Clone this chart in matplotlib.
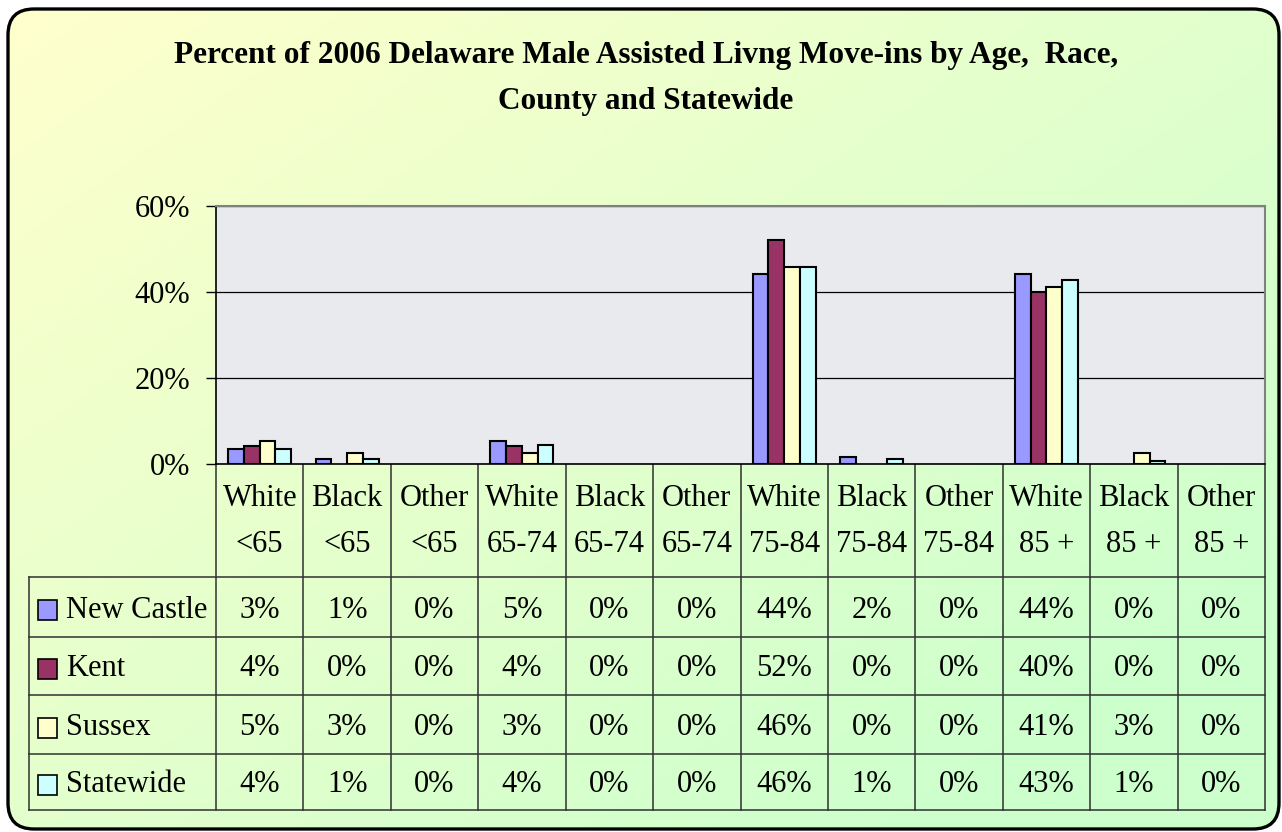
import matplotlib.pyplot as plt
import numpy as np
from matplotlib.patches import FancyBboxPatch, Rectangle
from matplotlib.transforms import blended_transform_factory

# categories (race / age group)
races = ['White', 'Black', 'Other'] * 4
ages = ['<65'] * 3 + ['65-74'] * 3 + ['75-84'] * 3 + ['85 +'] * 3

# percent of move-ins
new_castle = [3.4, 1.1, 0, 5.3, 0, 0, 44.3, 1.6, 0, 44.3, 0, 0]
kent = [4.2, 0, 0, 4.2, 0, 0, 52.1, 0, 0, 40.1, 0, 0]
sussex = [5.3, 2.6, 0, 2.6, 0, 0, 45.7, 0, 0, 41.2, 2.6, 0]
statewide = [3.6, 1.1, 0, 4.4, 0, 0, 45.7, 1.1, 0, 42.7, 0.6, 0]

series_names = ['New Castle', 'Kent', 'Sussex', 'Statewide']
series_colors = ['#9999FF', '#993366', '#FFFFCC', '#CCFFFF']
yticks = [0, 20, 40, 60]

title1 = 'Percent of 2006 Delaware Male Assisted Livng Move-ins by Age,  Race,'
title2 = 'County and Statewide'

plt.rcParams['font.family'] = ['Liberation Serif', 'DejaVu Serif']
FS = 22

W, H = 1282, 832
fig = plt.figure(figsize=(W / 100, H / 100), dpi=100)
fig.patch.set_facecolor('white')

# background layer in pixel coordinates
bg = fig.add_axes([0, 0, 1, 1])
bg.set_xlim(0, W)
bg.set_ylim(H, 0)
bg.axis('off')

box = FancyBboxPatch((8, 9), 1271, 820, boxstyle='round,pad=0,rounding_size=26',
                     facecolor='none', edgecolor='black', linewidth=2.4, zorder=3)
bg.add_patch(box)

# diagonal yellow -> green gradient
gx, gy = np.meshgrid(np.linspace(0, 1, 200), np.linspace(0, 1, 130))
t = np.clip((gx * 0.6 + gy * 0.55), 0, 1)[..., None]
c0 = np.array([1.0, 1.0, 0.80])
c1 = np.array([0.80, 1.0, 0.80])
grad = c0 * (1 - t) + c1 * t
im = bg.imshow(grad, extent=(8, 1279, 829, 9), aspect='auto', zorder=1, interpolation='bilinear')
im.set_clip_path(box)

# bar chart
left, right, top, bottom = 216, 1265, 206, 464
ax = fig.add_axes([left / W, 1 - bottom / H, (right - left) / W, (bottom - top) / H])
ax.set_facecolor('#E8EAED')
x = np.arange(len(races))
bw = 0.18
all_series = [new_castle, kent, sussex, statewide]
for i, (vals, col) in enumerate(zip(all_series, series_colors)):
    bars = ax.bar(x + (i - 1.5) * bw, vals, bw, color=col, edgecolor='black',
                  linewidth=1.5, zorder=3)
    for b, v in zip(bars, vals):
        if v == 0:
            b.set_visible(False)

ax.set_xlim(-0.5, len(races) - 0.5)
ax.set_ylim(0, 60)
ax.set_yticks(yticks)
ax.set_yticklabels(['%d%%' % v for v in yticks], fontsize=FS)
ax.set_xticks([])
ax.tick_params(axis='y', direction='out', length=7.2, width=1, pad=11.5)
ax.yaxis.grid(True, color='black', linewidth=0.9, zorder=1)
ax.set_axisbelow(True)
for s in ['top', 'right']:
    ax.spines[s].set_color('#808080')
    ax.spines[s].set_linewidth(1.5)
ax.spines['left'].set_linewidth(1.2)
ax.spines['bottom'].set_linewidth(1.2)

# data table below the plot
tr = blended_transform_factory(ax.transData, bg.transData)
row_lines = [577, 637, 695, 754, 810]
line_kw = dict(color='#303030', linewidth=1.1, zorder=4)
for k in range(len(races) + 1):
    bg.plot([k - 0.5, k - 0.5], [bottom, row_lines[-1]], transform=tr, **line_kw)
for yl in row_lines:
    bg.plot([29, right], [yl, yl], **line_kw)
bg.plot([29, 29], [row_lines[0], row_lines[-1]], **line_kw)

for k in range(len(races)):
    bg.text(k, 498, races[k], transform=tr, ha='center', va='center', fontsize=FS, zorder=5)
    bg.text(k, 544, ages[k], transform=tr, ha='center', va='center', fontsize=FS, zorder=5)

for r, (name, col, vals) in enumerate(zip(series_names, series_colors, all_series)):
    yc = (row_lines[r] + row_lines[r + 1]) / 2 + 3
    bg.add_patch(Rectangle((38, yc - 10), 19, 20, facecolor=col, edgecolor='black',
                           linewidth=1.2, zorder=5))
    bg.text(66, yc, name, ha='left', va='center', fontsize=FS, zorder=5)
    for k, v in enumerate(vals):
        bg.text(k, yc, '%d%%' % round(v), transform=tr, ha='center', va='center',
                fontsize=FS, zorder=5)

bg.text(646, 56, title1, ha='center', va='center', fontsize=22.5, fontweight='bold', zorder=5)
bg.text(646, 102, title2, ha='center', va='center', fontsize=22.5, fontweight='bold', zorder=5)

fig.savefig('out.png', dpi=100)
